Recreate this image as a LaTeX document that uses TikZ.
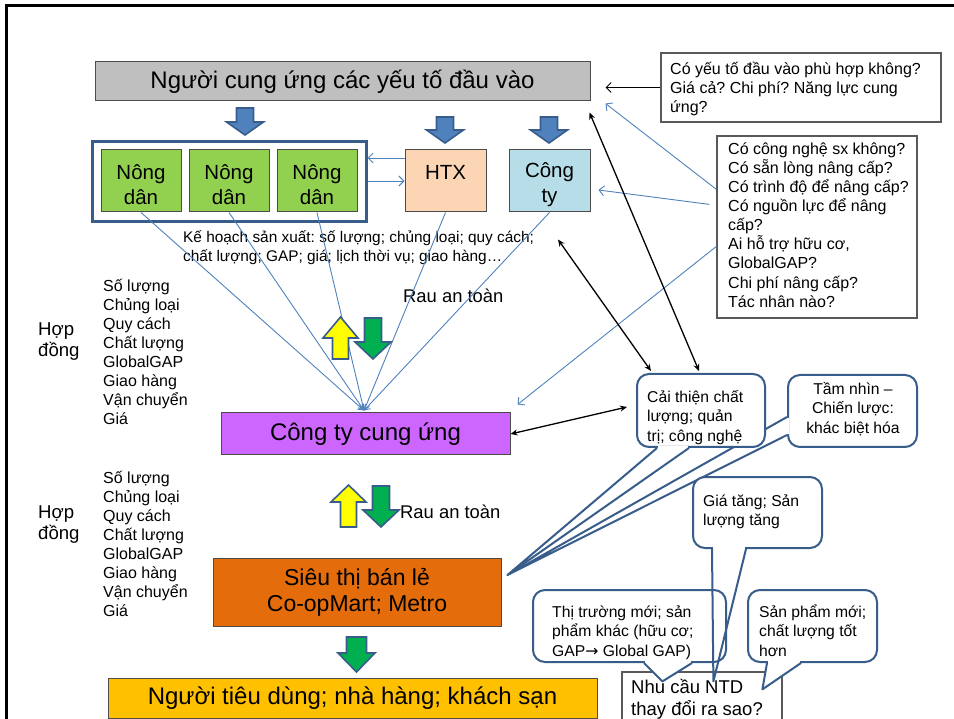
\documentclass[tikz,border=0pt]{standalone}
\usepackage{fontspec}
\setmainfont{Liberation Sans}
\newfontfamily\symfont{DejaVu Sans}
\usetikzlibrary{arrows.meta,calc}
\definecolor{gbox}{RGB}{191,191,191}
\definecolor{farmer}{RGB}{146,208,80}
\definecolor{htxc}{RGB}{252,213,181}
\definecolor{ctyc}{RGB}{183,222,232}
\definecolor{purp}{RGB}{204,102,255}
\definecolor{orng}{RGB}{228,108,10}
\definecolor{goldc}{RGB}{255,192,0}
\definecolor{ablue}{RGB}{79,129,189}
\definecolor{dblue}{RGB}{56,93,138}
\definecolor{agreen}{RGB}{0,176,80}
\definecolor{ayellow}{RGB}{255,255,0}
\frenchspacing
\newcommand\myfirst{\rule{0pt}{0.95em}}
% cx, shaft end y, head base y, tip y, shaft width, head width, fill
\newcommand\blockarrow[7]{%
  \filldraw[fill=#7, draw=dblue, line width=1.6pt, line join=miter]
    ({#1-#5/2},#2) -- ({#1+#5/2},#2) -- ({#1+#5/2},#3) -- ({#1+#6/2},#3) --
    (#1,#4) -- ({#1-#6/2},#3) -- ({#1-#5/2},#3) -- cycle;}
\newcommand\calltail[3]{%
  \fill[white] (#1) -- (#2) -- (#3) -- cycle;
  \draw[white, line width=3.4pt, shorten <=1.2pt, shorten >=1.2pt] (#1) -- (#3);
  \draw[cline] (#1) -- (#2) -- (#3);}
\tikzset{
  bx/.style={draw=black!70, line width=1pt, inner sep=0pt, align=center},
  qbx/.style={draw=black!65, line width=1.2pt, fill=white, inner sep=0pt},
  cbody/.style={draw=dblue, line width=2pt, fill=white, rounded corners=12pt, inner sep=0pt},
  cline/.style={dblue, line width=2pt, line join=round},
  txt/.style={anchor=north west, inner sep=0pt, align=left},
  blk/.style={black, line width=1.3pt, {Stealth[length=7pt,width=6pt]}-{Stealth[length=7pt,width=6pt]}},
  bln/.style={ablue, line width=0.9pt, -{Straight Barb[length=5pt,width=10pt]}},
  fanarr/.style={ablue, line width=0.9pt, -{Straight Barb[length=5pt,width=7pt]}},
  big/.style={font=\fontsize{24}{28}\selectfont},
  mid/.style={font=\fontsize{20.5}{25}\selectfont},
  sm/.style={font=\fontsize{16}{19.2}\selectfont},
  co/.style={font=\fontsize{15.7}{19.5}\selectfont},
}
\begin{document}
\begin{tikzpicture}[x=1pt,y=-1pt]
\useasboundingbox (0,0) rectangle (954,719);
% frame
\draw[line width=3pt] (6,730) -- (6,6) -- (960,6);

% top box
\node[bx, fill=gbox, minimum width=495pt, minimum height=39pt, big] (top) at (342.5,81.5) {Người cung ứng các yếu tố đầu vào};

% block arrows under top box
\blockarrow{245}{108}{122}{135}{17}{37}{ablue}
\blockarrow{445}{117}{130}{143}{17}{37}{ablue}
\blockarrow{549}{117}{130}{143}{17}{37}{ablue}

% farmer group
\node[draw=dblue, line width=3pt, minimum width=274pt, minimum height=80pt, inner sep=0pt] (grp) at (229,182) {};
\node[bx, fill=farmer, minimum width=80pt, minimum height=62pt, mid] (n1) at (141,181) {\rule{0pt}{1.1em}Nông\\dân};
\node[bx, fill=farmer, minimum width=80pt, minimum height=62pt, mid] (n2) at (229,181) {\rule{0pt}{1.1em}Nông\\dân};
\node[bx, fill=farmer, minimum width=80pt, minimum height=62pt, mid] (n3) at (317,181) {\rule{0pt}{1.1em}Nông\\dân};
\node[bx, fill=htxc, minimum width=81pt, minimum height=62pt, mid] (htx) at (445.5,181) {\rule{0pt}{1.1em}HTX\\\phantom{dân}};
\node[bx, fill=ctyc, minimum width=81pt, minimum height=62pt, mid] (cty) at (549.5,181) {\rule{0pt}{1.1em}Công\\ty};

\draw[bln] ($(htx.west)+(0,-23)$) -- ($(grp.east |- htx.west)+(0,-23)$);
\draw[bln] (grp.east |- htx.west) -- (htx.west);

% question boxes
\node[qbx, minimum width=280pt, minimum height=69pt] (q1) at (801,87.5) {};
\node[txt, sm] (q1t) at (670,59) {\myfirst Có yếu tố đầu vào phù hợp không?\\Giá cả? Chi phí? Năng lực cung\\ứng?};
\node[qbx, minimum width=200pt, minimum height=182pt] (q2) at (817,227) {};
\node[txt, font=\fontsize{16}{19.1}\selectfont] (q2t) at (728,139) {\myfirst Có công nghệ sx không?\\Có sẵn lòng nâng cấp?\\Có trình độ để nâng cấp?\\Có nguồn lực để nâng\\cấp?\\Ai hỗ trợ hữu cơ,\\GlobalGAP?\\Chi phí nâng cấp?\\Tác nhân nào?};

% plan text
\node[txt, font=\fontsize{15.4}{19}\selectfont] (plan) at (183,228) {\myfirst Kế hoạch sản xuất: số lượng; chủng loại; quy cách;\\chất lượng; GAP; giá; lịch thời vụ; giao hàng…};

% contract texts
\node[txt, font=\fontsize{18.6}{21}\selectfont] (hop1) at (38,318) {\myfirst Hợp\\đồng};
\node[txt, font=\fontsize{16}{19}\selectfont] (list1) at (103,276) {\myfirst Số lượng\\Chủng loại\\Quy cách\\Chất lượng\\GlobalGAP\\Giao hàng\\Vận chuyển\\Giá};
\node[txt, font=\fontsize{18.6}{21}\selectfont] (hop2) at (38,501) {\myfirst Hợp\\đồng};
\node[txt, font=\fontsize{16}{19}\selectfont] (list2) at (103,468) {\myfirst Số lượng\\Chủng loại\\Quy cách\\Chất lượng\\GlobalGAP\\Giao hàng\\Vận chuyển\\Giá};

\node[txt, font=\fontsize{18.4}{22}\selectfont] (rau1) at (403,284.5) {\myfirst Rau an toàn};
\node[txt, font=\fontsize{18.4}{22}\selectfont] (rau2) at (400,500.5) {\myfirst Rau an toàn};

% purple box
\node[bx, fill=purp, minimum width=289pt, minimum height=42pt, big] (pur) at (365.5,434) {Công ty cung ứng};
\coordinate (conv) at ($(pur.north)+(-1.5,-2)$);
\foreach \s in {n1,n2,n3,htx,cty} \draw[fanarr] (\s.south) -- (conv);

% up/down arrows
\blockarrow{340.5}{359}{338}{317}{16}{35}{ayellow}
\blockarrow{373}{318}{342}{359}{17}{36}{agreen}
\blockarrow{348.5}{527}{502}{485}{16}{35}{ayellow}
\blockarrow{381}{486}{510}{527}{17}{36}{agreen}

% supermarket and consumers
\node[bx, fill=orng, minimum width=288pt, minimum height=68pt, font=\fontsize{23}{26}\selectfont] (sieu) at (357,592) {Siêu thị bán lẻ\\Co-opMart; Metro};
\blockarrow{356.5}{637}{653}{672}{20}{37}{agreen}
\node[bx, fill=goldc, minimum width=489pt, minimum height=40pt, big] (cons) at (352.5,698) {Người tiêu dùng; nhà hàng; khách sạn};

% NTD box
\node[qbx, minimum width=160pt, minimum height=60pt] (ntd) at (702,702) {};

% callouts
\coordinate (tipS) at ($(sieu.east)+(6,-17)$);
\node[cbody, minimum width=129pt, minimum height=72pt] (tam) at (852.5,411) {};
\calltail{$(tam.west)+(0,6)$}{tipS}{$(tam.west)+(0,24)$}
\node[cbody, minimum width=128pt, minimum height=73pt] (cai) at (701,410.5) {};
\calltail{$(cai.south west)+(21,0)$}{tipS}{$(cai.south west)+(53,0)$}

\node[cbody, minimum width=129pt, minimum height=71pt] (gia) at (757.5,512.5) {};
\draw[white, line width=3.4pt] ($(gia.south west)+(21,0)$) -- ($(gia.south west)+(53,0)$);
\coordinate (tipG) at ($(ntd.north west)+(92,10)$);

\node[cbody, minimum width=193pt, minimum height=72pt] (thi) at (629.5,626) {};
\calltail{$(thi.south west)+(112,0)$}{$(ntd.north west)+(41,10)$}{$(thi.south west)+(160,0)$}
\node[cbody, minimum width=129pt, minimum height=72pt] (san) at (812.5,626) {};
\calltail{$(san.south west)+(20,0)$}{$(ntd.north west)+(141,18)$}{$(san.south west)+(54,0)$}
\draw[cline] ($(gia.south west)+(20,0)$) -- (tipG) -- ($(gia.south west)+(54,0)$);

% callout texts
\node[txt, co] (cait) at (647,387.2) {\myfirst Cải thiện chất\\lượng; quản\\trị; công nghệ};
\node[anchor=north, inner sep=0pt, align=center, co] (tamt) at (853,379.2) {\myfirst Tầm nhìn –\\Chiến lược:\\khác biệt hóa};
\node[txt, co] (giat) at (703,491.2) {\myfirst Giá tăng; Sản\\lượng tăng};
\node[txt, co] (thit) at (552,602.2) {\myfirst Thị trường mới; sản\\phẩm khác (hữu cơ;\\GAP{\symfont →} Global GAP)};
\node[txt, co] (sant) at (759,602.2) {\myfirst Sản phẩm mới;\\chất lượng tốt\\hơn};
\node[txt, font=\fontsize{18.5}{21.5}\selectfont] (ntdt) at (631,676.2) {\myfirst Nhu cầu NTD\\thay đổi ra sao?};

% connectors
\draw[black, line width=1pt, -{Straight Barb[length=5pt,width=10pt]}] (q1.west) -- ($(top.east |- q1.west)+(15,0)$);
\draw[bln] ([yshift=-54pt]q2.north west) -- ([xshift=15pt,yshift=-2pt]top.south east);
\draw[bln] ([xshift=-7pt,yshift=-69pt]q2.north west) -- ([xshift=8pt,yshift=-9pt]cty.east);
\draw[bln] ([yshift=-111pt]q2.north west) -- ([xshift=7pt,yshift=8pt]pur.north east);
\draw[blk] ([xshift=-1pt,yshift=-11pt]top.south east) -- ([xshift=-2pt,yshift=2pt]cai.north);
\draw[blk] ([xshift=8.5pt,yshift=-27pt]cty.south) -- ([xshift=15pt,yshift=2pt]cai.north west);
\draw[blk] (pur.east) -- ([xshift=-9pt,yshift=3.5pt]cai.west);
\end{tikzpicture}
\end{document}
